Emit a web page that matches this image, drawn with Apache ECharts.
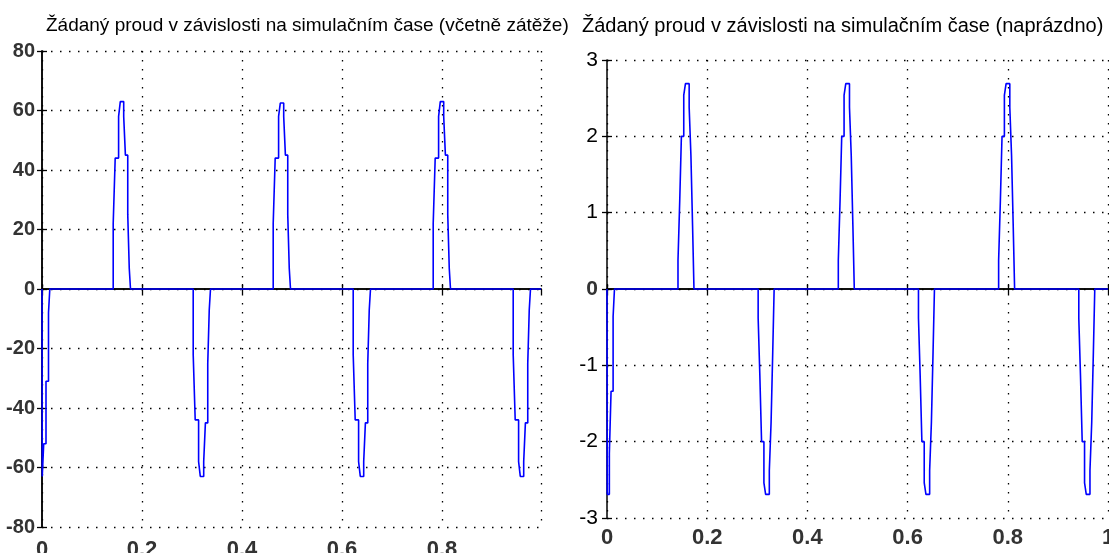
<!DOCTYPE html>
<html>
<head>
<meta charset="utf-8">
<script src="https://cdn.jsdelivr.net/npm/echarts@6.0.0/dist/echarts.min.js"></script>
<style>
  html, body { margin: 0; padding: 0; background: #fff; }
  #chart { width: 1109px; height: 553px; }
</style>
</head>
<body>
<div id="chart"></div>
<script>
// data (held values, drawn as steps)
var leftTime = [0, 0.0005, 0.0034, 0.0080, 0.0130, 0.0156,
  0.1424, 0.1464, 0.1532, 0.1566, 0.1634, 0.1668, 0.1715, 0.1745, 0.1770,
  0.3024, 0.3064, 0.3132, 0.3166, 0.3234, 0.3268, 0.3315, 0.3345, 0.3370,
  0.4624, 0.4664, 0.4732, 0.4766, 0.4834, 0.4868, 0.4915, 0.4945, 0.4970,
  0.6224, 0.6264, 0.6332, 0.6366, 0.6434, 0.6468, 0.6515, 0.6545, 0.6570,
  0.7824, 0.7864, 0.7932, 0.7966, 0.8034, 0.8068, 0.8115, 0.8145, 0.8170,
  0.9424, 0.9464, 0.9532, 0.9566, 0.9634, 0.9668, 0.9715, 0.9745, 0.9770,
  0.998];
var leftCurrent = [0, -63, -52, -31, -8, 0,
  22, 44, 58, 63, 58, 45, 25, 7, 0,
  -22, -44, -58, -63, -58, -45, -25, -7, 0,
  22, 44, 58, 62.5, 58, 45, 25, 7, 0,
  -22, -44, -58, -63, -58, -45, -25, -7, 0,
  22, 44, 58, 63, 58, 45, 25, 7, 0,
  -22, -44, -58, -63, -58, -45, -25, -7, 0,
  0];

var rightTime = [0, 0.0005, 0.0047, 0.0081, 0.0122, 0.0149,
  0.1417, 0.1451, 0.1485, 0.1532, 0.1566, 0.1640, 0.1675, 0.1708, 0.1736,
  0.3017, 0.3051, 0.3085, 0.3132, 0.3166, 0.3240, 0.3275, 0.3308, 0.3336,
  0.4617, 0.4651, 0.4685, 0.4732, 0.4766, 0.4840, 0.4875, 0.4908, 0.4936,
  0.6217, 0.6251, 0.6285, 0.6332, 0.6366, 0.6440, 0.6475, 0.6508, 0.6536,
  0.7817, 0.7851, 0.7885, 0.7932, 0.7966, 0.8040, 0.8075, 0.8108, 0.8136,
  0.9417, 0.9451, 0.9485, 0.9532, 0.9566, 0.9640, 0.9675, 0.9708, 0.9736,
  1.0];
var rightCurrent = [0, -2.69, -2.15, -1.34, -0.36, 0,
  0.38, 1.14, 2.0, 2.54, 2.69, 2.38, 1.75, 0.83, 0,
  -0.38, -1.14, -2.0, -2.54, -2.69, -2.38, -1.75, -0.83, 0,
  0.38, 1.14, 2.0, 2.54, 2.69, 2.38, 1.75, 0.83, 0,
  -0.38, -1.14, -2.0, -2.54, -2.69, -2.38, -1.75, -0.83, 0,
  0.38, 1.14, 2.0, 2.54, 2.69, 2.38, 1.75, 0.83, 0,
  -0.38, -1.14, -2.0, -2.54, -2.69, -2.38, -1.75, -0.83, 0,
  0];

var leftTitle = 'Žádaný proud v závislosti na simulačním čase (včetně zátěže)';
var rightTitle = 'Žádaný proud v závislosti na simulačním čase (naprázdno)';

function pairs(xs, ys) {
  var out = [];
  for (var i = 0; i < xs.length; i++) {
    out.push([xs[i], ys[i]]);
  }
  return out;
}

var gridDots = { color: '#000', type: [1.5, 7.5], width: 1.3 };
var boxLine = { show: true, lineStyle: { color: '#000', width: 1.5 } };
var inTick = { show: true, inside: true, length: 5, lineStyle: { color: '#000', width: 1.3 } };
var sans = 'Liberation Sans, Arial, sans-serif';
var zeroBold = { fontFamily: sans, fontWeight: 'bold', fontSize: 21, color: '#333' };

var option = {
  animation: false,
  backgroundColor: '#fff',
  title: [
    { text: leftTitle, left: 41, top: 11, textStyle: { fontFamily: sans, fontWeight: 'normal', fontSize: 19, color: '#000' } },
    { text: rightTitle, left: 577, top: 11, textStyle: { fontFamily: sans, fontWeight: 'normal', fontSize: 20, color: '#000' } }
  ],
  grid: [
    { left: 42, top: 51, width: 499, height: 476, containLabel: false, outerBoundsMode: 'none' },
    { left: 607, top: 60, width: 501, height: 458, containLabel: false, outerBoundsMode: 'none' }
  ],
  xAxis: [
    {
      gridIndex: 0, type: 'value', min: 0, max: 0.998, interval: 0.2,
      axisLine: boxLine, axisTick: inTick,
      axisLabel: { margin: 12, showMaxLabel: false, fontFamily: sans, fontWeight: 'bold', fontSize: 22, color: '#333' },
      splitLine: { show: true, lineStyle: gridDots }
    },
    {
      gridIndex: 0, type: 'value', position: 'top', min: 0, max: 0.998, interval: 0.2,
      axisLine: boxLine, axisTick: inTick, axisLabel: { show: false }, splitLine: { show: false }
    },
    {
      gridIndex: 1, type: 'value', min: 0, max: 1, interval: 0.2,
      axisLine: boxLine, axisTick: inTick,
      axisLabel: { margin: 9, fontFamily: sans, fontWeight: 'bold', fontSize: 22, color: '#333' },
      splitLine: { show: true, lineStyle: gridDots }
    },
    {
      gridIndex: 1, type: 'value', position: 'top', min: 0, max: 1, interval: 0.2,
      axisLine: boxLine, axisTick: inTick, axisLabel: { show: false }, splitLine: { show: false }
    }
  ],
  yAxis: [
    {
      gridIndex: 0, type: 'value', min: -80, max: 80, interval: 20,
      axisLine: boxLine, axisTick: inTick,
      axisLabel: { margin: 7, fontFamily: sans, fontWeight: 'bold', fontSize: 20, color: '#333' },
      splitLine: { show: true, lineStyle: gridDots }
    },
    {
      gridIndex: 0, type: 'value', position: 'right', min: -80, max: 80, interval: 20,
      axisLine: boxLine, axisTick: inTick, axisLabel: { show: false }, splitLine: { show: false }
    },
    {
      gridIndex: 1, type: 'value', min: -3, max: 3, interval: 1,
      axisLine: boxLine, axisTick: inTick,
      axisLabel: {
        margin: 9, fontFamily: sans, fontSize: 21, color: '#000',
        formatter: function (v) { return v === 0 ? '{z|0}' : String(v); },
        rich: { z: zeroBold }
      },
      splitLine: { show: true, lineStyle: gridDots }
    },
    {
      gridIndex: 1, type: 'value', position: 'right', min: -3, max: 3, interval: 1,
      axisLine: { show: false }, axisTick: inTick, axisLabel: { show: false }, splitLine: { show: false }
    }
  ],
  series: [
    {
      type: 'line', xAxisIndex: 0, yAxisIndex: 0, step: 'end', showSymbol: false,
      lineStyle: { color: '#0000ff', width: 1.6 },
      data: pairs(leftTime, leftCurrent)
    },
    {
      type: 'line', xAxisIndex: 2, yAxisIndex: 2, step: 'end', showSymbol: false,
      lineStyle: { color: '#0000ff', width: 1.6 },
      data: pairs(rightTime, rightCurrent)
    }
  ]
};

var myChart = echarts.init(document.getElementById('chart'));
myChart.setOption(option);
</script>
</body>
</html>
